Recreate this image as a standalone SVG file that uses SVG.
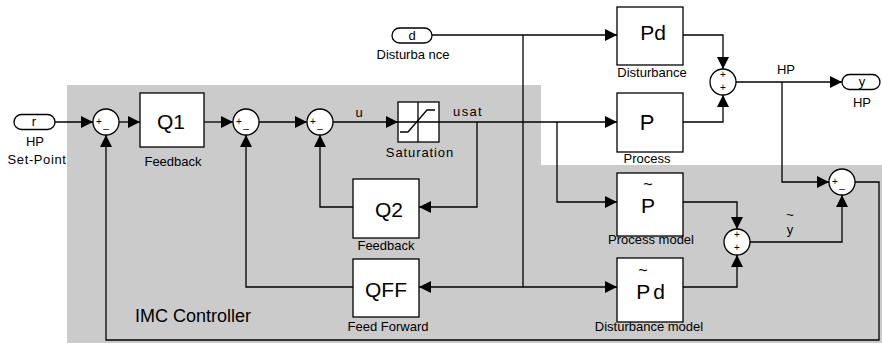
<svg xmlns="http://www.w3.org/2000/svg" width="882" height="346" viewBox="0 0 882 346">
<style>
text{font-family:"Liberation Sans",Arial,sans-serif;fill:#000}
.blk{fill:#fff;stroke:#000;stroke-width:1.3}
.sum{fill:#fff;stroke:#000;stroke-width:1.3}
.pill{fill:#fff;stroke:#000;stroke-width:1.3}
.big{font-size:21px;text-anchor:middle}
.lbl{font-size:13px;text-anchor:middle}
.sgn{font-size:10px;text-anchor:middle}
.tl{font-size:16px;text-anchor:middle}
.w{fill:none;stroke:#000;stroke-width:1.3}
.a{marker-end:url(#ah)}
</style>
<defs>
<marker id="ah" markerUnits="userSpaceOnUse" markerWidth="12" markerHeight="12" refX="12" refY="6" orient="auto">
<path d="M0,0 L12,6 L0,12 z" fill="#000"/>
</marker>
</defs>
<polygon points="67,85 541,85 541,165 882,165 882,343 67,343" fill="#cbcbcb"/>
<text x="193" y="322" style="font-size:18px;text-anchor:middle">IMC Controller</text>

<g id="connectors">
<path class="w a" d="M55,122 H93"/>
<path class="w a" d="M119,122 H140"/>
<path class="w a" d="M204,122 H233"/>
<path class="w a" d="M259,122 H307"/>
<path class="w a" d="M333,122 H398"/>
<path class="w a" d="M439,122 H617"/>
<path class="w a" d="M477,122 V207 H419"/>
<path class="w a" d="M353,207 H320 V135"/>
<path class="w a" d="M432,35 H617"/>
<path class="w" d="M523,35 V287"/>
<path class="w a" d="M523,287 H419"/>
<path class="w a" d="M523,287 H617"/>
<path class="w a" d="M353,287 H246 V135"/>
<path class="w a" d="M557,122 V202 H617"/>
<path class="w a" d="M683,35 H723 V69"/>
<path class="w a" d="M683,122 H723 V95"/>
<path class="w a" d="M736,82 H842"/>
<path class="w a" d="M782,82 V182 H829"/>
<path class="w a" d="M683,202 H737 V229"/>
<path class="w a" d="M683,287 H737 V255"/>
<path class="w a" d="M750,242 H842 V195"/>
<path class="w a" d="M855,182 H879 V340 H106 V135"/>
</g>
<text x="359" y="117" class="lbl">u</text>
<text x="468" y="116" class="lbl" style="letter-spacing:1.3px">usat</text>
<text x="786" y="74" class="lbl">HP</text>
<text x="790" y="234" class="lbl">y</text>
<text x="790" y="219" class="lbl">~</text>

<g id="in_r">
<rect class="pill" x="14" y="114.5" width="41" height="15" rx="7.5"/>
<text x="34" y="126" class="lbl">r</text>
<text x="35" y="146" class="lbl">HP</text>
<text x="37" y="164" class="lbl" style="letter-spacing:0.6px">Set-Point</text>
</g>
<g id="in_d">
<rect class="pill" x="392" y="28" width="40" height="15" rx="7.5"/>
<text x="412" y="39.5" class="lbl">d</text>
<text x="413" y="59" class="lbl">Disturba nce</text>
</g>
<g id="out_y">
<rect class="pill" x="842" y="74.5" width="38" height="15" rx="7.5"/>
<text x="862" y="86" class="lbl">y</text>
<text x="862" y="107" class="lbl">HP</text>
</g>

<g id="sum1">
<circle class="sum" cx="106" cy="122" r="13"/>
<text x="99" y="125" class="sgn">+</text><text x="106" y="128" class="sgn">_</text>
</g>
<g id="Q1">
<rect class="blk" x="140" y="93" width="64" height="54"/>
<text x="171" y="129" class="big">Q1</text>
<text x="173" y="166" class="lbl">Feedback</text>
</g>
<g id="sum2">
<circle class="sum" cx="246" cy="122" r="13"/>
<text x="239" y="125" class="sgn">+</text><text x="246" y="128" class="sgn">_</text>
</g>
<g id="sum3">
<circle class="sum" cx="320" cy="122" r="13"/>
<text x="313" y="125" class="sgn">+</text><text x="320" y="128" class="sgn">_</text>
</g>
<g id="saturation">
<rect class="blk" x="398" y="102" width="41" height="40"/>
<path class="w" d="M398,122 H439 M418,102 V142"/>
<path class="w" d="M400,132 H408 L427,110 H435"/>
<text x="420" y="157" class="lbl" style="letter-spacing:0.9px">Saturation</text>
</g>
<g id="Q2">
<rect class="blk" x="353" y="179" width="66" height="59"/>
<text x="389" y="217" class="big">Q2</text>
<text x="386" y="250" class="lbl">Feedback</text>
</g>
<g id="QFF">
<rect class="blk" x="353" y="259" width="66" height="58"/>
<text x="386" y="297" class="big">QFF</text>
<text x="388" y="331" class="lbl">Feed Forward</text>
</g>
<g id="Pd">
<rect class="blk" x="617" y="7" width="66" height="58"/>
<text x="653" y="40" class="big">Pd</text>
<text x="652" y="77" class="lbl">Disturbance</text>
</g>
<g id="P">
<rect class="blk" x="617" y="93" width="66" height="59"/>
<text x="647" y="130" class="big" style="font-size:22px">P</text>
<text x="647" y="163" class="lbl">Process</text>
</g>
<g id="sum4">
<circle class="sum" cx="723" cy="82" r="13"/>
<text x="723" y="78" class="sgn">+</text><text x="723" y="91" class="sgn">+</text>
</g>
<g id="Pmodel">
<rect class="blk" x="617" y="173" width="66" height="63"/>
<text x="648" y="213" class="big">P</text>
<text x="648" y="190" class="tl">~</text>
<text x="651" y="244" class="lbl">Process model</text>
</g>
<g id="Pdmodel">
<rect class="blk" x="617" y="258" width="66" height="64"/>
<text x="652" y="299" class="big" style="letter-spacing:3px">Pd</text>
<text x="643" y="276" class="tl">~</text>
<text x="649" y="331" class="lbl">Disturbance model</text>
</g>
<g id="sum6">
<circle class="sum" cx="737" cy="242" r="13"/>
<text x="737" y="238" class="sgn">+</text><text x="737" y="251" class="sgn">+</text>
</g>
<g id="sum5">
<circle class="sum" cx="842" cy="182" r="13"/>
<text x="835" y="185" class="sgn">+</text><text x="842" y="188" class="sgn">_</text>
</g>
</svg>
